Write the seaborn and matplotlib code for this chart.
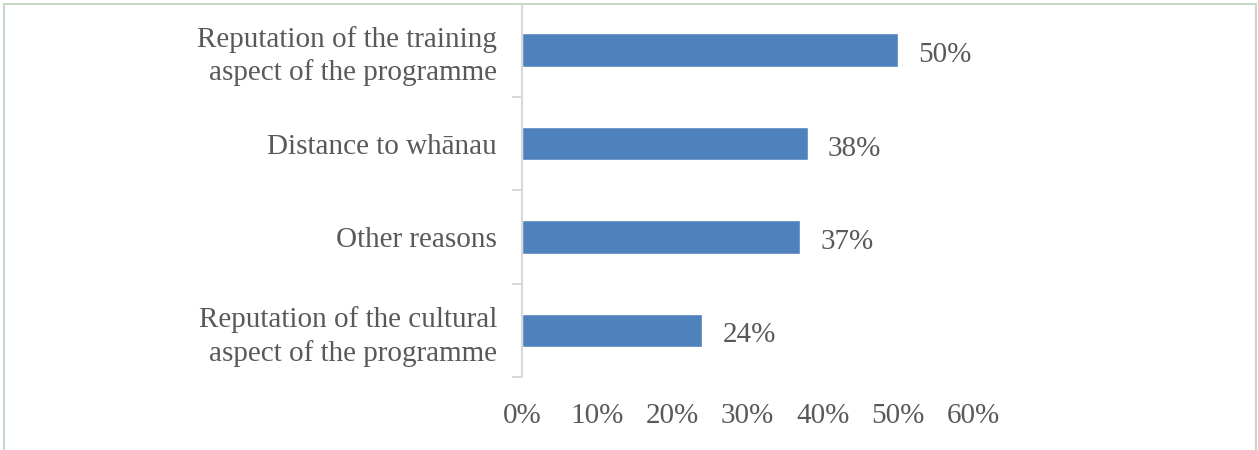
import matplotlib
matplotlib.use("Agg")
import matplotlib.pyplot as plt
from matplotlib.patches import Rectangle
from matplotlib.ticker import FixedLocator, PercentFormatter
import seaborn as sns
import pandas as pd

categories = [
    "Reputation of the training\naspect of the programme",
    "Distance to wh\u0101nau",
    "Other reasons",
    "Reputation of the cultural\naspect of the programme",
]
values = [50, 38, 37, 24]
x_ticks = [0, 10, 20, 30, 40, 50, 60]

sns.set_theme(style="white")
plt.rcParams["font.family"] = ["Liberation Serif", "DejaVu Serif"]

text_color = "#595959"
axis_color = "#d9d9d9"
bar_color = "#4f81bd"
fsize = 21

W, H = 1258, 450
fig = plt.figure(figsize=(W / 100, H / 100), dpi=100)
ax = fig.add_axes([522 / W, (H - 377) / H, (973 - 522) / W, (377 - 3.5) / H])

df = pd.DataFrame({"reason": categories, "share": values})
sns.barplot(data=df, y="reason", x="share", orient="h", color=bar_color,
            saturation=1, width=0.36, ax=ax)

ax.set_xlim(0, 60)
ax.set_ylim(3.5, -0.5)
ax.set_xlabel("")
ax.set_ylabel("")
ax.xaxis.set_major_locator(FixedLocator(x_ticks))
ax.xaxis.set_major_formatter(PercentFormatter(decimals=0))
ax.tick_params(axis="x", length=0, pad=19, labelsize=fsize, labelcolor=text_color)
ax.tick_params(axis="y", which="major", left=True, length=0, pad=18,
               labelsize=fsize, labelcolor=text_color)
ax.set_yticks([-0.5, 0.5, 1.5, 2.5, 3.5], minor=True)
ax.tick_params(axis="y", which="minor", left=True, length=7, width=1.5,
               color=axis_color)
for lbl in ax.get_yticklabels():
    lbl.set_horizontalalignment("right")
    lbl.set_multialignment("right")
    lbl.set_linespacing(1.3)

for s in ["top", "right", "bottom"]:
    ax.spines[s].set_visible(False)
ax.spines["left"].set_color(axis_color)
ax.spines["left"].set_linewidth(1.5)
ax.grid(False)

for i, v in enumerate(values):
    ax.annotate(f"{v}%", xy=(v, i), xytext=(20, -5), textcoords="offset pixels",
                ha="left", va="center", fontsize=fsize, color=text_color)

fig.patches.append(Rectangle((4 / W, -0.1), (1256 - 4) / W, (H - 4) / H + 0.1,
                             transform=fig.transFigure, fill=False,
                             edgecolor="#c6d9c6", linewidth=1.5))

fig.savefig("out.png", dpi=100, facecolor="white")
